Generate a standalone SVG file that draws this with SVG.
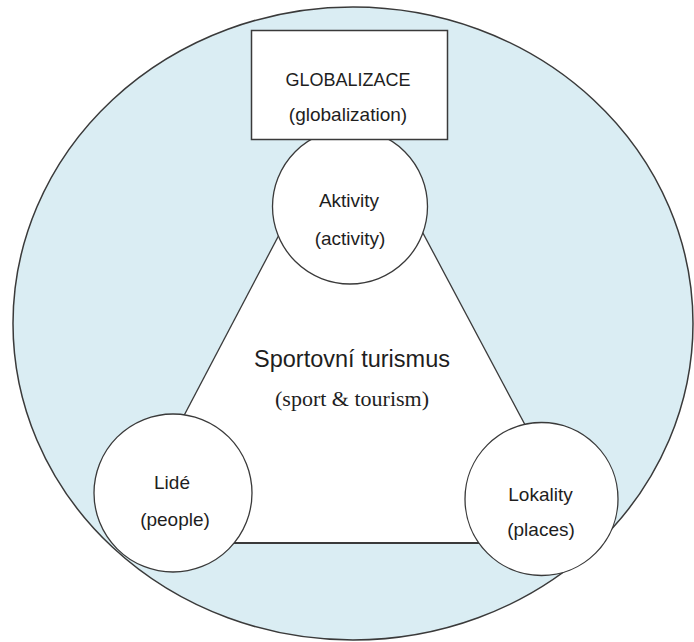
<svg xmlns="http://www.w3.org/2000/svg" width="694" height="642" viewBox="0 0 694 642">
<style>
.lbl{font-family:"Liberation Sans",Arial,sans-serif;font-size:19px;fill:#1e1e1e;text-anchor:middle}
.node{fill:#ffffff;stroke:#3a3a3a;stroke-width:1.3}
.edge{stroke:#3a3a3a;stroke-width:1.3;fill:none}
</style>
<g id="globalization-area">
<ellipse cx="353" cy="323.5" rx="340" ry="316.5" fill="#daedf3" stroke="#3a3a3a" stroke-width="1.5"/>
</g>
<g id="sport-tourism">
<polygon points="351,98 117,543 588,543" fill="#ffffff" stroke="none"/>
<text class="lbl" x="352" y="367" style="font-size:23.5px">Sportovní turismus</text>
<text x="352" y="406" style="font-family:'Liberation Serif','Times New Roman',serif;font-size:22px;fill:#1e1e1e;text-anchor:middle">(sport &amp; tourism)</text>
</g>
<g id="connectors">
<line class="edge" x1="351" y1="98" x2="117" y2="543"/>
<line class="edge" x1="351" y1="98" x2="588" y2="543"/>
<line class="edge" x1="117" y1="543" x2="588" y2="543" style="stroke-width:2"/>
</g>
<g id="aktivity">
<circle class="node" cx="350" cy="206.5" r="77.5"/>
<text class="lbl" x="349" y="207">Aktivity</text>
<text class="lbl" x="350" y="245">(activity)</text>
</g>
<g id="globalizace">
<rect x="251.5" y="30.5" width="196" height="109" fill="#ffffff" stroke="#3a3a3a" stroke-width="1.5"/>
<text class="lbl" x="348" y="86" style="font-size:18px">GLOBALIZACE</text>
<text class="lbl" x="348" y="121">(globalization)</text>
</g>
<g id="lide">
<circle class="node" cx="173" cy="493" r="79"/>
<text class="lbl" x="172" y="489">Lidé</text>
<text class="lbl" x="175" y="526">(people)</text>
</g>
<g id="lokality">
<circle class="node" cx="541.5" cy="499" r="76.5"/>
<text class="lbl" x="540.5" y="501">Lokality</text>
<text class="lbl" x="541" y="536">(places)</text>
</g>
</svg>
